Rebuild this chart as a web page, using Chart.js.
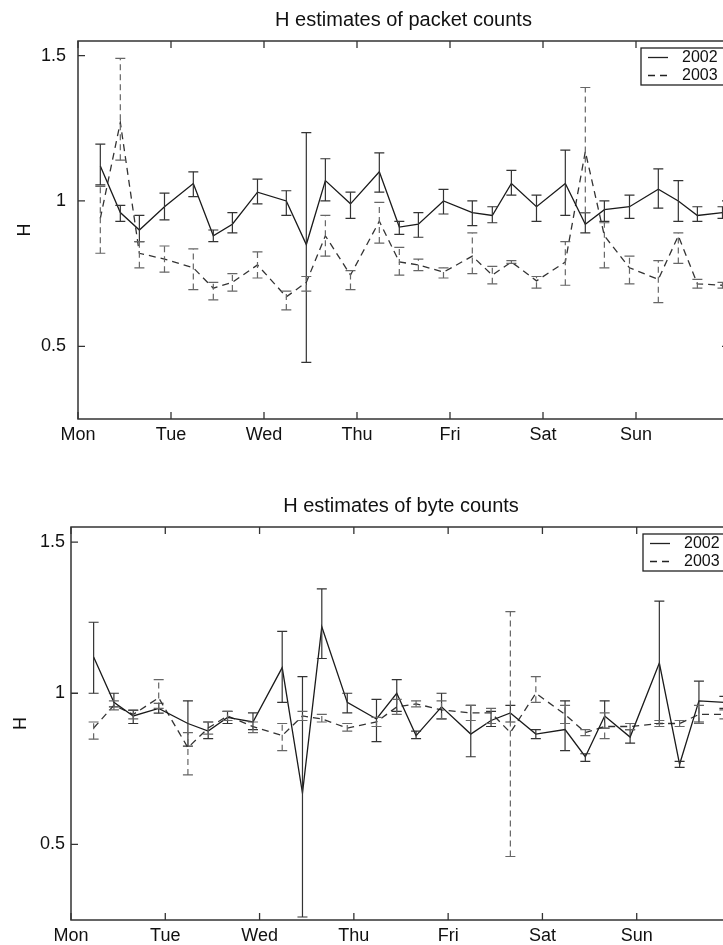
<!DOCTYPE html>
<html lang="en">
<head>
<meta charset="UTF-8">
<title>H estimates</title>
<script src="https://cdn.jsdelivr.net/npm/chart.js@4.4.1/dist/chart.umd.min.js"></script>
<style>
    html, body { margin: 0; padding: 0; background: #fff; overflow: hidden; }
    .page { position: relative; width: 723px; height: 945px; overflow: hidden; }
    #packetChart { position: absolute; left: 0; top: 0; }
    #byteChart { position: absolute; left: 0; top: 486px; }
</style>
</head>
<body>
<div class="page">
    <canvas id="packetChart" width="806" height="450"></canvas>
    <canvas id="byteChart" width="802" height="459"></canvas>
</div>
<script>
// x axis: days since Monday 00:00
const dayNames = ['Mon', 'Tue', 'Wed', 'Thu', 'Fri', 'Sat', 'Sun', ''];
const dayTicks = [0, 1, 2, 3, 4, 5, 6, 7];
const hTicks = [0.5, 1, 1.5];

// sample times (days)
const times = [0.24, 0.455, 0.66, 0.93, 1.24, 1.455, 1.66, 1.93, 2.24, 2.455, 2.66, 2.93,
               3.24, 3.455, 3.66, 3.93, 4.24, 4.455, 4.66, 4.93, 5.24, 5.455, 5.66, 5.93,
               6.24, 6.455, 6.66, 6.93];

// packet counts
const pkt2002 = [1.12, 0.96, 0.90, 0.98, 1.06, 0.88, 0.92, 1.03, 1.00, 0.85, 1.07, 0.99, 1.10, 0.91,
                 0.92, 1.00, 0.96, 0.95, 1.06, 0.98, 1.06, 0.92, 0.97, 0.98, 1.04, 1.00, 0.95, 0.96];
const pkt2002Lo = [1.055, 0.93, 0.86, 0.935, 1.015, 0.86, 0.89, 0.99, 0.95, 0.445, 1.00, 0.94, 1.03, 0.885,
                   0.875, 0.955, 0.915, 0.925, 1.02, 0.93, 0.95, 0.89, 0.93, 0.94, 0.975, 0.93, 0.93, 0.94];
const pkt2002Hi = [1.195, 0.985, 0.95, 1.027, 1.10, 0.90, 0.96, 1.075, 1.035, 1.235, 1.145, 1.03, 1.165, 0.93,
                   0.96, 1.04, 1.00, 0.98, 1.105, 1.02, 1.175, 0.96, 1.00, 1.02, 1.11, 1.07, 0.98, 0.98];
const pkt2003 = [0.94, 1.27, 0.82, 0.80, 0.77, 0.70, 0.72, 0.78, 0.67, 0.72, 0.88, 0.745, 0.93, 0.79,
                 0.78, 0.755, 0.81, 0.745, 0.79, 0.725, 0.79, 1.17, 0.88, 0.77, 0.73, 0.88, 0.715, 0.71];
const pkt2003Lo = [0.82, 1.14, 0.77, 0.755, 0.695, 0.66, 0.69, 0.735, 0.625, 0.69, 0.81, 0.695, 0.855, 0.745,
                   0.76, 0.735, 0.75, 0.715, 0.785, 0.70, 0.71, 0.96, 0.77, 0.715, 0.65, 0.785, 0.70, 0.70];
const pkt2003Hi = [1.05, 1.49, 0.86, 0.845, 0.835, 0.72, 0.75, 0.825, 0.69, 0.74, 0.95, 0.76, 0.995, 0.84,
                   0.80, 0.77, 0.89, 0.775, 0.795, 0.74, 0.86, 1.39, 0.925, 0.81, 0.795, 0.89, 0.73, 0.72];

// byte counts
const byte2002 = [1.12, 0.97, 0.925, 0.95, 0.90, 0.875, 0.92, 0.905, 1.085, 0.67, 1.22, 0.97, 0.915, 1.00,
                  0.86, 0.955, 0.865, 0.91, 0.935, 0.865, 0.88, 0.79, 0.925, 0.855, 1.10, 0.765, 0.975, 0.97];
const byte2002Lo = [1.00, 0.955, 0.90, 0.934, 0.825, 0.85, 0.90, 0.88, 0.97, 0.26, 1.115, 0.935, 0.84, 0.94,
                    0.85, 0.915, 0.79, 0.89, 0.905, 0.85, 0.81, 0.775, 0.885, 0.835, 0.90, 0.755, 0.905, 0.95];
const byte2002Hi = [1.235, 1.00, 0.943, 0.967, 0.975, 0.905, 0.94, 0.935, 1.205, 1.055, 1.345, 1.00, 0.98, 1.045,
                    0.875, 1.00, 0.96, 0.94, 0.96, 0.88, 0.975, 0.80, 0.975, 0.88, 1.305, 0.775, 1.04, 0.99];
const byte2003 = [0.885, 0.96, 0.93, 0.985, 0.82, 0.885, 0.925, 0.89, 0.86, 0.925, 0.915, 0.885, 0.905, 0.955,
                  0.965, 0.945, 0.935, 0.935, 0.87, 1.00, 0.93, 0.87, 0.89, 0.89, 0.90, 0.90, 0.93, 0.93];
const byte2003Lo = [0.848, 0.945, 0.915, 0.95, 0.73, 0.865, 0.91, 0.87, 0.81, 0.91, 0.905, 0.875, 0.89, 0.93,
                    0.955, 0.915, 0.91, 0.90, 0.46, 0.97, 0.90, 0.86, 0.85, 0.88, 0.89, 0.89, 0.90, 0.915];
const byte2003Hi = [0.905, 0.975, 0.945, 1.045, 0.87, 0.905, 0.94, 0.905, 0.90, 0.94, 0.93, 0.90, 0.92, 0.98,
                    0.975, 0.975, 0.96, 0.95, 1.27, 1.055, 0.96, 0.88, 0.935, 0.90, 0.91, 0.91, 0.96, 0.945];

Chart.defaults.font.family = "'Liberation Sans', Arial, sans-serif";
Chart.defaults.color = '#111';

function pts(values) {
    return values.map((v, i) => ({ x: times[i], y: v }));
}

// error bars, box, inward ticks and legend, MATLAB style
const matlabLook = {
    id: 'matlabLook',
    afterDatasetsDraw(chart) {
        const ctx = chart.ctx;
        const a = chart.chartArea;
        const xs = chart.scales.x, ys = chart.scales.y;

        ctx.save();
        ctx.beginPath();
        ctx.rect(a.left, a.top, a.right - a.left, a.bottom - a.top);
        ctx.clip();
        chart.data.datasets.forEach(ds => {
            ctx.strokeStyle = ds.barColor;
            ctx.lineWidth = 1.2;
            ds.data.forEach((p, i) => {
                const px = xs.getPixelForValue(p.x);
                const lo = ys.getPixelForValue(ds.low[i]);
                const hi = ys.getPixelForValue(ds.high[i]);
                ctx.setLineDash(ds.barDash);
                ctx.beginPath();
                ctx.moveTo(px, lo);
                ctx.lineTo(px, hi);
                ctx.stroke();
                ctx.setLineDash([]);
                ctx.beginPath();
                ctx.moveTo(px - 5, lo); ctx.lineTo(px + 5, lo);
                ctx.moveTo(px - 5, hi); ctx.lineTo(px + 5, hi);
                ctx.stroke();
            });
        });
        ctx.restore();

        ctx.save();
        ctx.strokeStyle = '#333';
        ctx.lineWidth = 1.5;
        ctx.strokeRect(a.left, a.top, a.right - a.left, a.bottom - a.top);
        ctx.lineWidth = 1.3;
        ctx.beginPath();
        dayTicks.forEach(d => {
            const px = xs.getPixelForValue(d);
            ctx.moveTo(px, a.bottom); ctx.lineTo(px, a.bottom - 7);
            ctx.moveTo(px, a.top); ctx.lineTo(px, a.top + 7);
        });
        hTicks.forEach(h => {
            const py = ys.getPixelForValue(h);
            ctx.moveTo(a.left, py); ctx.lineTo(a.left + 7, py);
            ctx.moveTo(a.right, py); ctx.lineTo(a.right - 7, py);
        });
        ctx.stroke();

        // legend box
        const lx = a.right - 88, ly = a.top + 7;
        ctx.fillStyle = '#fff';
        ctx.fillRect(lx, ly, 86, 37);
        ctx.strokeStyle = '#222';
        ctx.lineWidth = 1.3;
        ctx.strokeRect(lx, ly, 86, 37);
        ctx.font = "16px 'Liberation Sans', Arial, sans-serif";
        ctx.textBaseline = 'middle';
        ctx.fillStyle = '#111';
        chart.data.datasets.forEach((ds, k) => {
            const yy = ly + 9.5 + k * 18;
            ctx.strokeStyle = '#222';
            ctx.lineWidth = 1.3;
            ctx.setLineDash(ds.borderDash || []);
            ctx.beginPath();
            ctx.moveTo(lx + 7, yy); ctx.lineTo(lx + 27, yy);
            ctx.stroke();
            ctx.setLineDash([]);
            ctx.fillText(ds.label, lx + 41, yy);
        });
        ctx.restore();
    }
};

function makeChart(id, title, s2002, lo2002, hi2002, s2003, lo2003, hi2003, box) {
    return new Chart(document.getElementById(id), {
        type: 'scatter',
        data: {
            datasets: [{
                label: '2002',
                data: pts(s2002),
                low: lo2002,
                high: hi2002,
                showLine: true,
                borderColor: '#1a1a1a',
                borderWidth: 1.3,
                barColor: '#333',
                barDash: [],
                pointRadius: 0,
                tension: 0
            }, {
                label: '2003',
                data: pts(s2003),
                low: lo2003,
                high: hi2003,
                showLine: true,
                borderColor: '#333',
                borderWidth: 1.3,
                borderDash: [7, 5],
                barColor: '#666',
                barDash: [6, 4],
                pointRadius: 0,
                tension: 0
            }]
        },
        options: {
            responsive: false,
            animation: false,
            devicePixelRatio: 1,
            layout: { padding: { top: 8, left: 0, right: box.right, bottom: 0 } },
            plugins: {
                legend: { display: false },
                tooltip: { enabled: false },
                title: {
                    display: true,
                    fullSize: false,
                    text: title,
                    font: { size: 20, weight: 'normal' },
                    color: '#111',
                    padding: { top: 0, bottom: 9 }
                }
            },
            scales: {
                x: {
                    type: 'linear',
                    min: 0,
                    max: 7,
                    grid: { display: false },
                    border: { display: false },
                    afterBuildTicks: s => { s.ticks = dayTicks.map(v => ({ value: v })); },
                    afterFit: s => { s.height = box.xHeight; },
                    ticks: {
                        autoSkip: false,
                        maxRotation: 0,
                        padding: -3,
                        font: { size: 18 },
                        callback: v => dayNames[v]
                    }
                },
                y: {
                    min: 0.25,
                    max: 1.55,
                    grid: { display: false },
                    border: { display: false },
                    afterBuildTicks: s => { s.ticks = hTicks.map(v => ({ value: v })); },
                    afterFit: s => { s.width = box.yWidth; },
                    title: {
                        display: true,
                        text: 'H',
                        font: { size: 18 },
                        padding: { top: box.titlePad, bottom: 0 }
                    },
                    ticks: {
                        padding: box.yPad,
                        font: { size: 18 },
                        callback: v => String(v)
                    }
                }
            }
        },
        plugins: [matlabLook]
    });
}

makeChart('packetChart', 'H estimates of packet counts',
    pkt2002, pkt2002Lo, pkt2002Hi, pkt2003, pkt2003Lo, pkt2003Hi,
    { right: 77, xHeight: 31, yWidth: 78, titlePad: 14, yPad: 4 });

makeChart('byteChart', 'H estimates of byte counts',
    byte2002, byte2002Lo, byte2002Hi, byte2003, byte2003Lo, byte2003Hi,
    { right: 71, xHeight: 25, yWidth: 71, titlePad: 10, yPad: -2 });
</script>
</body>
</html>
